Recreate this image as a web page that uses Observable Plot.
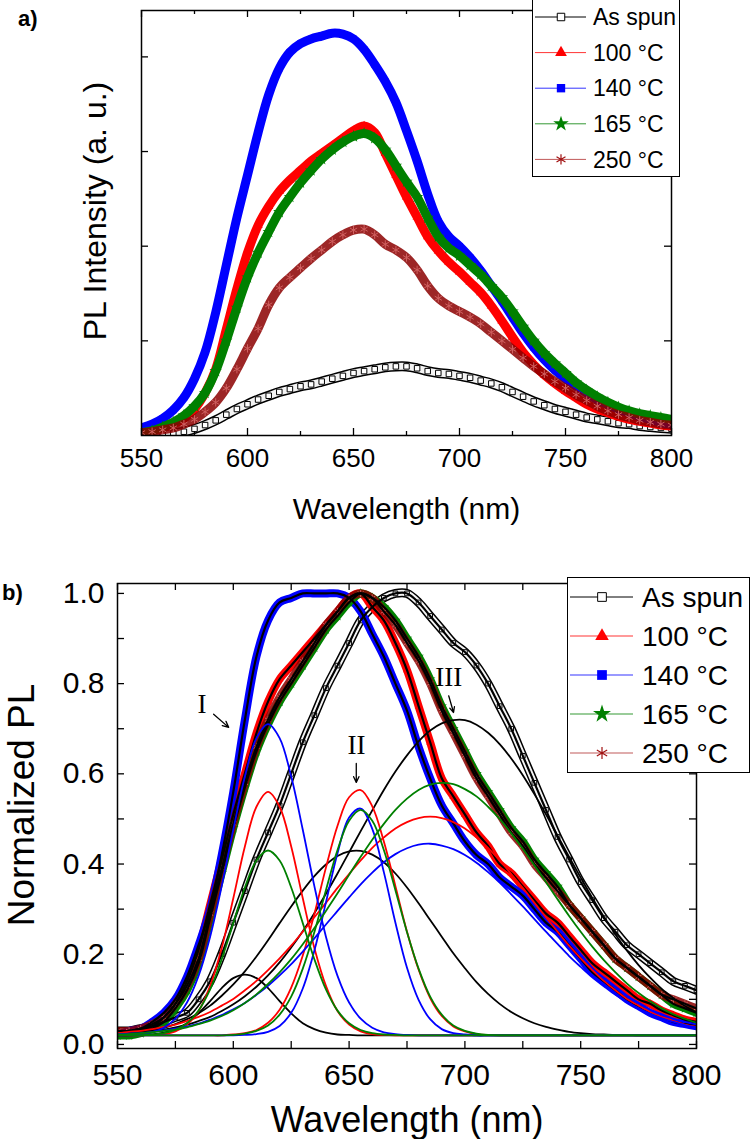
<!DOCTYPE html>
<html><head><meta charset="utf-8">
<script src="https://cdn.jsdelivr.net/npm/d3@7"></script>
<script src="https://cdn.jsdelivr.net/npm/@observablehq/plot@0.6"></script>
<style>
body{margin:0;background:#fff;}
#root{position:relative;width:750px;height:1139px;overflow:hidden;background:#fff;font-family:"Liberation Sans",Arial,sans-serif;}
.tag{position:absolute;font-weight:bold;font-size:22px;font-family:"Liberation Sans",Arial,sans-serif;}
</style></head><body><div id="root"></div>
<script>
// ---------------- DATA ----------------
const wavelength = [550,555,560,565,570,575,580,585,590,595,600,605,610,615,620,625,630,635,640,645,650,655,660,665,670,675,680,685,690,695,700,705,710,715,720,725,730,735,740,745,750,755,760,765,770,775,780,785,790,795,800];
const seriesNames = ["As spun","100 °C","140 °C","165 °C","250 °C"];

// panel a) PL intensity (a. u.)
const asSpunA = [0.00,0.00,0.01,0.02,0.04,0.07,0.11,0.16,0.22,0.28, 0.33,0.38,0.42,0.46,0.49,0.52,0.54,0.57,0.60,0.63, 0.66,0.68,0.70,0.72,0.73,0.73,0.71,0.68,0.66,0.65, 0.63,0.61,0.58,0.55,0.51,0.46,0.41,0.36,0.32,0.28, 0.25,0.22,0.19,0.17,0.15,0.13,0.12,0.10,0.09,0.08, 0.07];
const t100A = [0.03,0.05,0.08,0.12,0.18,0.28,0.45,0.70,1.12,1.55, 1.93,2.22,2.42,2.58,2.70,2.80,2.90,2.98,3.06,3.14, 3.22,3.27,3.20,2.98,2.75,2.52,2.31,2.10,1.95,1.83, 1.73,1.62,1.51,1.37,1.21,1.04,0.88,0.75,0.64,0.55, 0.47,0.40,0.33,0.28,0.24,0.20,0.17,0.15,0.13,0.11, 0.10];
const t140A = [0.08,0.12,0.18,0.27,0.40,0.60,0.88,1.30,1.80,2.30, 2.75,3.20,3.60,3.88,4.05,4.14,4.19,4.22,4.25,4.24, 4.19,4.08,3.92,3.74,3.52,3.22,2.90,2.55,2.26,2.10, 2.00,1.88,1.74,1.58,1.42,1.25,1.08,0.93,0.80,0.69, 0.60,0.52,0.45,0.38,0.33,0.28,0.24,0.20,0.17,0.14, 0.12];
const t165A = [0.03,0.05,0.09,0.14,0.21,0.31,0.45,0.68,1.00,1.35, 1.67,1.93,2.15,2.36,2.52,2.67,2.80,2.92,3.02,3.10, 3.16,3.19,3.14,3.02,2.85,2.68,2.52,2.30,2.10,1.98, 1.90,1.80,1.70,1.58,1.46,1.31,1.15,1.00,0.87,0.76, 0.66,0.56,0.48,0.41,0.35,0.30,0.26,0.23,0.21,0.19, 0.17];
const t250A = [0.03,0.04,0.06,0.08,0.12,0.17,0.25,0.35,0.50,0.70, 0.92,1.13,1.38,1.56,1.67,1.77,1.87,1.96,2.05,2.12, 2.17,2.18,2.12,2.02,1.96,1.88,1.75,1.58,1.45,1.37, 1.31,1.25,1.18,1.09,1.00,0.91,0.82,0.73,0.65,0.57, 0.50,0.43,0.37,0.31,0.26,0.22,0.19,0.16,0.14,0.12, 0.11];

// panel b) normalized PL
const asSpunB = [0.03,0.03,0.035,0.04,0.05,0.06,0.07,0.10,0.14,0.20, 0.27,0.34,0.41,0.47,0.53,0.60,0.67,0.73,0.79,0.84, 0.89,0.94,0.97,0.99,1.00,1.00,0.98,0.95,0.92,0.89, 0.87,0.84,0.80,0.75,0.70,0.64,0.58,0.52,0.46,0.41, 0.36,0.32,0.28,0.25,0.22,0.20,0.18,0.16,0.14,0.13, 0.12];
const t100B = [0.02,0.025,0.03,0.04,0.06,0.09,0.14,0.21,0.31,0.41, 0.51,0.60,0.69,0.76,0.81,0.84,0.87,0.90,0.93,0.96, 0.99,1.00,0.97,0.94,0.89,0.83,0.75,0.67,0.59,0.55, 0.51,0.47,0.44,0.40,0.38,0.35,0.32,0.29,0.27,0.24, 0.21,0.18,0.16,0.14,0.12,0.10,0.09,0.075,0.065,0.055, 0.05];
const t140B = [0.02,0.03,0.035,0.05,0.07,0.10,0.15,0.22,0.30,0.42, 0.56,0.72,0.86,0.94,0.98,0.99,1.00,1.00,1.00,1.00, 0.99,0.96,0.91,0.86,0.80,0.74,0.66,0.59,0.53,0.49, 0.45,0.42,0.40,0.37,0.35,0.33,0.30,0.27,0.25,0.22, 0.19,0.16,0.14,0.12,0.10,0.085,0.07,0.06,0.05,0.045, 0.04];
const t165B = [0.02,0.02,0.025,0.035,0.05,0.08,0.12,0.18,0.28,0.38, 0.48,0.57,0.65,0.71,0.76,0.80,0.84,0.88,0.92,0.95, 0.98,1.00,0.99,0.97,0.94,0.90,0.86,0.81,0.75,0.70, 0.65,0.60,0.56,0.52,0.48,0.45,0.41,0.38,0.35,0.31, 0.28,0.25,0.22,0.19,0.17,0.15,0.13,0.11,0.09,0.08, 0.07];
const t250B = [0.03,0.03,0.035,0.045,0.06,0.09,0.13,0.19,0.29,0.39, 0.49,0.58,0.66,0.72,0.77,0.81,0.85,0.89,0.93,0.96, 0.99,1.00,0.99,0.96,0.93,0.89,0.85,0.80,0.74,0.69, 0.64,0.59,0.55,0.51,0.47,0.44,0.40,0.37,0.34,0.31, 0.28,0.25,0.22,0.19,0.17,0.15,0.13,0.11,0.10,0.09, 0.08];

// panel b) fitted peaks I, II, III
const asSpunI = [0.020,0.020,0.021,0.022,0.026,0.034,0.047,0.069,0.096,0.125, 0.147,0.155,0.147,0.125,0.096,0.069,0.047,0.034,0.026,0.022, 0.021,0.020,0.020,0.020,0.020,0.020,0.020,0.020,0.020,0.020, 0.020,0.020,0.020,0.020,0.020,0.020,0.020,0.020,0.020,0.020, 0.020,0.020,0.020,0.020,0.020,0.020,0.020,0.020,0.020,0.020, 0.020];
const asSpunII = [0.023,0.025,0.028,0.032,0.037,0.045,0.056,0.069,0.086,0.108, 0.133,0.162,0.195,0.231,0.269,0.306,0.341,0.373,0.399,0.418, 0.428,0.429,0.421,0.404,0.379,0.348,0.313,0.276,0.239,0.202, 0.169,0.138,0.112,0.090,0.072,0.058,0.047,0.039,0.033,0.028, 0.025,0.023,0.022,0.021,0.021,0.020,0.020,0.020,0.020,0.020, 0.020];
const asSpunIII = [0.023,0.025,0.027,0.029,0.033,0.038,0.044,0.052,0.061,0.074, 0.089,0.107,0.128,0.153,0.182,0.215,0.251,0.291,0.334,0.379, 0.426,0.473,0.519,0.564,0.605,0.641,0.672,0.696,0.712,0.719, 0.719,0.709,0.691,0.666,0.634,0.597,0.555,0.510,0.463,0.416, 0.370,0.325,0.283,0.244,0.208,0.176,0.148,0.123,0.103,0.085, 0.071];
const t100I = [0.020,0.020,0.020,0.021,0.023,0.029,0.044,0.074,0.130,0.214, 0.324,0.439,0.527,0.560,0.527,0.439,0.324,0.214,0.130,0.074, 0.044,0.029,0.023,0.021,0.020,0.020,0.020,0.020,0.020,0.020, 0.020,0.020,0.020,0.020,0.020,0.020,0.020,0.020,0.020,0.020, 0.020,0.020,0.020,0.020,0.020,0.020,0.020,0.020,0.020,0.020, 0.020];
const t100II = [0.020,0.020,0.020,0.020,0.020,0.020,0.020,0.020,0.020,0.020, 0.022,0.025,0.032,0.048,0.077,0.126,0.197,0.289,0.392,0.485, 0.548,0.564,0.528,0.450,0.351,0.250,0.166,0.103,0.063,0.040, 0.029,0.023,0.021,0.020,0.020,0.020,0.020,0.020,0.020,0.020, 0.020,0.020,0.020,0.020,0.020,0.020,0.020,0.020,0.020,0.020, 0.020];
const t100III = [0.025,0.028,0.030,0.034,0.039,0.044,0.052,0.061,0.072,0.086, 0.101,0.120,0.141,0.165,0.191,0.219,0.250,0.282,0.314,0.347, 0.378,0.408,0.436,0.459,0.479,0.493,0.502,0.505,0.502,0.493, 0.479,0.459,0.436,0.408,0.378,0.347,0.314,0.282,0.250,0.219, 0.191,0.165,0.141,0.120,0.101,0.086,0.072,0.061,0.052,0.044, 0.039];
const t140I = [0.020,0.021,0.023,0.027,0.037,0.057,0.093,0.152,0.239,0.351, 0.476,0.594,0.679,0.710,0.679,0.594,0.476,0.351,0.239,0.152, 0.093,0.057,0.037,0.027,0.023,0.021,0.020,0.020,0.020,0.020, 0.020,0.020,0.020,0.020,0.020,0.020,0.020,0.020,0.020,0.020, 0.020,0.020,0.020,0.020,0.020,0.020,0.020,0.020,0.020,0.020, 0.020];
const t140II = [0.020,0.020,0.020,0.020,0.020,0.020,0.020,0.020,0.020,0.020, 0.020,0.021,0.023,0.028,0.041,0.070,0.124,0.208,0.315,0.424, 0.503,0.523,0.478,0.382,0.270,0.170,0.099,0.056,0.034,0.025, 0.022,0.020,0.020,0.020,0.020,0.020,0.020,0.020,0.020,0.020, 0.020,0.020,0.020,0.020,0.020,0.020,0.020,0.020,0.020,0.020, 0.020];
const t140III = [0.023,0.024,0.025,0.028,0.031,0.035,0.040,0.046,0.055,0.065, 0.078,0.092,0.110,0.130,0.153,0.178,0.206,0.235,0.266,0.296, 0.326,0.355,0.381,0.404,0.422,0.435,0.443,0.445,0.441,0.433, 0.420,0.403,0.382,0.359,0.333,0.306,0.278,0.250,0.223,0.196, 0.172,0.149,0.129,0.110,0.094,0.080,0.068,0.058,0.050,0.043, 0.038];
const t165I = [0.020,0.020,0.020,0.022,0.025,0.032,0.047,0.075,0.122,0.189, 0.269,0.348,0.408,0.430,0.408,0.348,0.269,0.189,0.122,0.075, 0.047,0.032,0.025,0.022,0.021,0.020,0.020,0.020,0.020,0.020, 0.020,0.020,0.020,0.020,0.020,0.020,0.020,0.020,0.020,0.020, 0.020,0.020,0.020,0.020,0.020,0.020,0.020,0.020,0.020,0.020, 0.020];
const t165II = [0.020,0.020,0.020,0.020,0.020,0.020,0.020,0.020,0.020,0.020, 0.021,0.024,0.030,0.042,0.066,0.106,0.168,0.249,0.342,0.431, 0.496,0.520,0.496,0.431,0.342,0.249,0.168,0.106,0.066,0.042, 0.030,0.024,0.021,0.020,0.020,0.020,0.020,0.020,0.020,0.020, 0.020,0.020,0.020,0.020,0.020,0.020,0.020,0.020,0.020,0.020, 0.020];
const t165III = [0.022,0.023,0.025,0.027,0.030,0.033,0.038,0.045,0.053,0.063, 0.076,0.092,0.111,0.134,0.160,0.189,0.222,0.258,0.296,0.335, 0.376,0.416,0.454,0.489,0.520,0.545,0.564,0.576,0.580,0.577, 0.566,0.550,0.527,0.500,0.468,0.434,0.397,0.360,0.322,0.285, 0.250,0.217,0.187,0.160,0.135,0.114,0.096,0.080,0.067,0.057, 0.048];

// ticks and annotations
const xTicks = [550,600,650,700,750,800];
const xMinorTicks = [575,625,675,725,775];
const yTicksA = [1,2,3,4];
const yTicksB = [0,0.2,0.4,0.6,0.8,1.0];
const yMinorB = [0.1,0.3,0.5,0.7,0.9];
const peakLabels = ["I","II","III"];
const peakLabelX = [586.5,653.2,693.0];
const peakLabelY = [0.734,0.644,0.795];
const arrowFromX = [591.5,653.1,693.0];
const arrowFromY = [0.732,0.623,0.773];
const arrowToX = [598.0,653.1,695.1];
const arrowToY = [0.703,0.581,0.736];

// ---------------- STYLE ----------------
const looks = [
  {color:"#000000", symbol:"square", hollow:true},
  {color:"#ff0000", symbol:"triangle"},
  {color:"#0000ff", symbol:"square"},
  {color:"#008000", symbol:"star"},
  {color:"#8b0000", symbol:"asterisk", open:true}
];
const compColors = ["#000000","#ff0000","#0000ff","#008000"];
const FONT = '"Liberation Sans", Arial, sans-serif';
const tidy = vals => wavelength.map((w,i)=>({w, v: vals[i]}));
const root = document.getElementById("root");
function place(node, top){ node.style.position="absolute"; node.style.left="0px"; node.style.top=top+"px"; root.appendChild(node); }

function seriesMarks(vals, k, band, rMul){
  const d = tidy(vals), s = looks[k], m = [];
  const base = {x:"w", y:"v", clip:true};
  if (s.hollow){
    m.push(Plot.line(d,{...base, stroke:"#000", strokeWidth:band+1, curve:"catmull-rom"}));
    m.push(Plot.line(d,{...base, stroke:"#f4f4f4", strokeWidth:band-2, curve:"catmull-rom"}));
    m.push(Plot.dot(d,{...base, symbol:"square", r:3.1*rMul, fill:"#fff", stroke:"#000", strokeWidth:1}));
  } else if (s.open){
    m.push(Plot.line(d,{...base, stroke:s.color, strokeOpacity:0.85, strokeWidth:band, curve:"catmull-rom"}));
    m.push(Plot.dot(d,{...base, symbol:"asterisk", r:3.9*rMul, stroke:"#d06060", strokeWidth:1}));
  } else {
    m.push(Plot.line(d,{...base, stroke:s.color, strokeWidth:band, curve:"catmull-rom"}));
    const r = s.symbol==="star" ? 3.9 : s.symbol==="triangle" ? 3.4 : 3.6;
    m.push(Plot.dot(d,{...base, symbol:s.symbol, r:r*rMul, fill:s.color}));
  }
  return m;
}

// ---------------- PANEL A ----------------
const WA=750, HA=540, mA={top:10,right:79,bottom:105,left:141};
const iwA = WA-mA.left-mA.right, ihA = HA-mA.top-mA.bottom;
const marksA = [];
[asSpunA,t100A,t140A,t165A,t250A].forEach((v,k)=>marksA.push(...seriesMarks(v,k,9,1)));
marksA.push(
  Plot.ruleX(xTicks,{insetTop:ihA-7, strokeWidth:1.3}),
  Plot.ruleX(xMinorTicks,{insetTop:ihA-4, strokeWidth:1.3}),
  Plot.ruleX(xTicks,{insetBottom:ihA-7, strokeWidth:1.3}),
  Plot.ruleX(xMinorTicks,{insetBottom:ihA-4, strokeWidth:1.3}),
  Plot.ruleY(yTicksA,{insetRight:iwA-7, strokeWidth:1.3}),
  Plot.ruleY(yTicksA,{insetLeft:iwA-7, strokeWidth:1.3}),
  Plot.frame({stroke:"#000", strokeWidth:1.5}),
  Plot.axisX({ticks:xTicks, tickSize:0, tickPadding:13, fontSize:26, label:null}),
  Plot.text(["Wavelength (nm)"],{frameAnchor:"bottom", dy:83, lineAnchor:"bottom", fontSize:30}),
  Plot.text(["PL Intensity (a. u.)"],{frameAnchor:"left", textAnchor:"middle", rotate:-90, dx:-36, dy:-12, lineAnchor:"bottom", fontSize:32})
);
const plotA = Plot.plot({
  width:WA, height:HA, marginTop:mA.top, marginRight:mA.right, marginBottom:mA.bottom, marginLeft:mA.left,
  x:{domain:[550,800]}, y:{domain:[0,4.49], axis:null},
  style:{fontFamily:FONT, fontSize:"26px", color:"#000", background:"transparent", overflow:"visible"},
  marks:marksA
});
place(plotA, 0);

// ---------------- PANEL B ----------------
const WB=750, HB=599, mB={top:43,right:54,bottom:91,left:117};
const iwB = WB-mB.left-mB.right, ihB = HB-mB.top-mB.bottom;
const marksB = [];
[asSpunB,t100B,t140B,t165B,t250B].forEach((v,k)=>marksB.push(...seriesMarks(v,k,8,0.85)));
[asSpunB,t100B,t140B,t165B,t250B].forEach(v=>marksB.push(Plot.line(tidy(v),{x:"w",y:"v",stroke:"#000",strokeWidth:2.2,curve:"catmull-rom",clip:true})));
const comps = [[asSpunI,asSpunII,asSpunIII],[t100I,t100II,t100III],[t140I,t140II,t140III],[t165I,t165II,t165III]];
comps.forEach((set,k)=>set.forEach(v=>marksB.push(Plot.line(tidy(v),{x:"w",y:"v",stroke:compColors[k],strokeWidth:1.8,curve:"catmull-rom",clip:true}))));
const labelRows = peakLabels.map((t,i)=>({t, x:peakLabelX[i], y:peakLabelY[i]}));
const arrowRows = peakLabels.map((t,i)=>({x1:arrowFromX[i], y1:arrowFromY[i], x2:arrowToX[i], y2:arrowToY[i]}));
marksB.push(
  Plot.text(labelRows,{x:"x", y:"y", text:"t", lineAnchor:"bottom", fontFamily:'"Liberation Serif", "Times New Roman", serif', fontSize:27, fill:"#000"}),
  Plot.arrow(arrowRows,{x1:"x1", y1:"y1", x2:"x2", y2:"y2", stroke:"#000", strokeWidth:1.3, headLength:9, headAngle:50}),
  Plot.ruleX(xTicks,{insetTop:ihB-7, strokeWidth:1.3}),
  Plot.ruleX(xMinorTicks,{insetTop:ihB-7, strokeWidth:1.3}),
  Plot.ruleX(xTicks,{insetBottom:ihB-7, strokeWidth:1.3}),
  Plot.ruleX(xMinorTicks,{insetBottom:ihB-7, strokeWidth:1.3}),
  Plot.ruleY(yTicksB,{insetRight:iwB-7, strokeWidth:1.3}),
  Plot.ruleY(yMinorB,{insetRight:iwB-7, strokeWidth:1.3}),
  Plot.ruleY(yTicksB,{insetLeft:iwB-7, strokeWidth:1.3}),
  Plot.ruleY(yMinorB,{insetLeft:iwB-7, strokeWidth:1.3}),
  Plot.frame({stroke:"#000", strokeWidth:1.5}),
  Plot.axisX({ticks:xTicks, tickSize:0, tickPadding:15, fontSize:30, label:null}),
  Plot.axisY({ticks:yTicksB, tickFormat:d=>d.toFixed(1), tickSize:0, tickPadding:13, fontSize:30, label:null}),
  Plot.text(["Wavelength (nm)"],{frameAnchor:"bottom", dy:83, lineAnchor:"bottom", fontSize:36}),
  Plot.text(["Normalized PL"],{frameAnchor:"left", textAnchor:"middle", rotate:-90, dx:-84, dy:-11, lineAnchor:"bottom", fontSize:37})
);
const plotB = Plot.plot({
  width:WB, height:HB, marginTop:mB.top, marginRight:mB.right, marginBottom:mB.bottom, marginLeft:mB.left,
  x:{domain:[550,800]}, y:{domain:[-0.009,1.022]},
  style:{fontFamily:FONT, fontSize:"26px", color:"#000", background:"transparent", overflow:"visible"},
  marks:marksB
});
place(plotB, 540);

// ---------------- LEGENDS ----------------
const symMap = {square:d3.symbolSquare, triangle:d3.symbolTriangle, star:d3.symbolStar, asterisk:d3.symbolAsterisk};
function legend(L){
  const svg = d3.create("svg").attr("width",L.w).attr("height",L.h)
    .style("position","absolute").style("left",L.left+"px").style("top",L.top+"px").style("overflow","visible");
  svg.append("rect").attr("x",0.5).attr("y",0.5).attr("width",L.w-1).attr("height",L.h-1).attr("fill","#fff").attr("stroke","#000").attr("stroke-width",1);
  seriesNames.forEach((name,i)=>{
    const s = looks[i], y = L.y0 + i*L.dy;
    svg.append("line").attr("x1",L.lx1).attr("x2",L.lx2).attr("y1",y).attr("y2",y).attr("stroke",s.open?"#b03030":s.color).attr("stroke-width",1).attr("stroke-opacity",s.hollow?1:0.8);
    const size = L.sz[s.symbol]*(s.hollow?0.8:1);
    const p = svg.append("path").attr("d",d3.symbol(symMap[s.symbol], size)()).attr("transform",`translate(${L.mx},${y})`);
    if (s.hollow) p.attr("fill","#fff").attr("stroke","#000").attr("stroke-width",1);
    else if (s.open) p.attr("fill","none").attr("stroke","#a01010").attr("stroke-width",1.2);
    else p.attr("fill",s.color);
    svg.append("text").attr("x",L.tx).attr("y",y+L.fs*0.36).attr("font-family",FONT).attr("font-size",L.fs).attr("fill","#000").text(name);
  });
  root.appendChild(svg.node());
}
legend({left:532, top:-1, w:148, h:178, y0:18, dy:35.6, lx1:3, lx2:54, mx:29, tx:61, fs:23, sz:{square:70, triangle:60, star:75, asterisk:75}});
legend({left:567, top:577, w:183, h:196, y0:20, dy:39, lx1:3, lx2:66, mx:35, tx:75, fs:28, sz:{square:95, triangle:80, star:100, asterisk:100}});

// panel tags
const ta = document.createElement("div"); ta.className="tag"; ta.textContent="a)"; ta.style.left="18px"; ta.style.top="6px"; root.appendChild(ta);
const tb = document.createElement("div"); tb.className="tag"; tb.textContent="b)"; tb.style.left="2px"; tb.style.top="580px"; root.appendChild(tb);
</script></body></html>
